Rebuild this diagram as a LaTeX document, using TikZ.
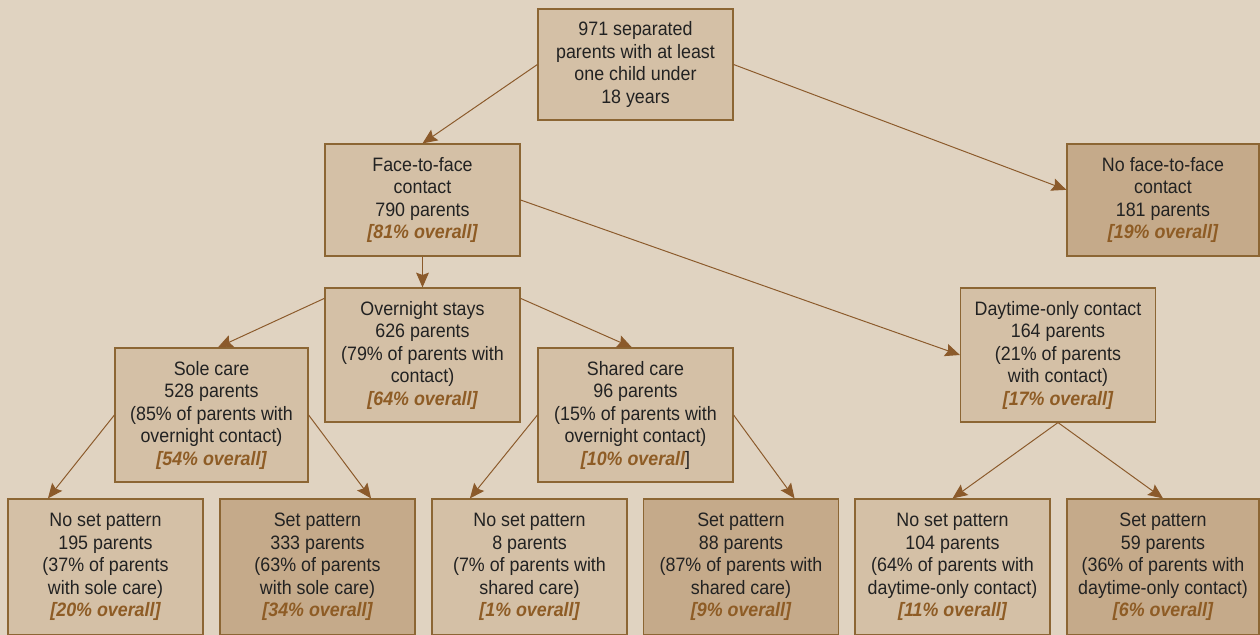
\documentclass[tikz,border=0pt]{standalone}
\usepackage{fontspec}
\setmainfont{Liberation Sans}[FakeStretch=0.92]
\usepackage{tikz}
\usetikzlibrary{arrows.meta}
\usepackage{color}

\definecolor{bgcol}{HTML}{E0D3C1}
\definecolor{boxlight}{HTML}{D4C0A6}
\definecolor{boxdark}{HTML}{C5AA8A}
\definecolor{edgecol}{HTML}{8C6634}
\definecolor{arrowcol}{HTML}{8B5A2B}
\definecolor{textcol}{HTML}{222222}
\definecolor{overallcol}{HTML}{8E5C25}

\newcommand{\overall}[1]{\textcolor{overallcol}{\bfseries\itshape [#1\% overall]}}

\begin{document}
\begin{tikzpicture}[x=0.025cm, y=-0.025cm,
    box/.style={draw=edgecol, line width=0.8pt, fill=boxlight, text=textcol, align=center,
        inner sep=0pt, minimum width=4.875cm, font=\fontsize{13.8}{16}\selectfont},
    darkbox/.style={box, fill=boxdark},
    arr/.style={draw=arrowcol, line width=0.7pt, -{Stealth[length=0.37cm, width=0.32cm, inset=0.06cm]}}]
        \useasboundingbox[fill=bgcol] (0,0) rectangle (1260,635);

        % Nodes
        \node[box, minimum height=2.775cm] (total) at (635.5, 64.5) {971 separated\\parents with at least\\one child under\\18 years};
        \node[box, minimum height=2.8cm] (face) at (422.5, 200) {Face-to-face\\contact\\790 parents\\\overall{81}};
        \node[darkbox, minimum height=2.8cm, minimum width=4.8cm] (noface) at (1163, 200) {No face-to-face\\contact\\181 parents\\\overall{19}};
        \node[box, minimum height=3.35cm] (overnight) at (422.5, 355) {Overnight stays\\626 parents\\(79\% of parents with\\contact)\\\overall{64}};
        \node[box, minimum height=3.35cm] (daytime) at (1058, 355) {Daytime-only contact\\164 parents\\(21\% of parents\\with contact)\\\overall{17}};
        \node[box, minimum height=3.35cm, minimum width=4.825cm] (sole) at (211.5, 415) {Sole care\\528 parents\\(85\% of parents with\\overnight contact)\\\overall{54}};
        \node[box, minimum height=3.35cm] (shared) at (635.5, 415) {Shared care\\96 parents\\(15\% of parents with\\overnight contact)\\\textcolor{overallcol}{\bfseries\itshape [10\% overall}]};

        \node[box, minimum height=3.4cm] (solenone) at (105.5, 567) {No set pattern\\195 parents\\(37\% of parents\\with sole care)\\\overall{20}};
        \node[darkbox, minimum height=3.4cm] (soleset) at (317.5, 567) {Set pattern\\333 parents\\(63\% of parents\\with sole care)\\\overall{34}};
        \node[box, minimum height=3.4cm] (sharednone) at (529.5, 567) {No set pattern\\8 parents\\(7\% of parents with\\shared care)\\\overall{1}};
        \node[darkbox, minimum height=3.4cm] (sharedset) at (741, 567) {Set pattern\\88 parents\\(87\% of parents with\\shared care)\\\overall{9}};
        \node[box, minimum height=3.4cm] (daynone) at (952.5, 567) {No set pattern\\104 parents\\(64\% of parents with\\daytime-only contact)\\\overall{11}};
        \node[darkbox, minimum height=3.4cm, minimum width=4.8cm] (dayset) at (1163, 567) {Set pattern\\59 parents\\(36\% of parents with\\daytime-only contact)\\\overall{6}};

        % Arrows
        \draw[arr] (total.west) -- (face.north);
        \draw[arr] (total.east) -- (noface.174);
        \draw[arr] (face.south) -- (overnight.north);
        \draw[arr] (face.east) -- (daytime.west);
        \draw[arr] (overnight.150) -- ([xshift=0.16cm]sole.north);
        \draw[arr] (overnight.30) -- ([xshift=-0.09cm]shared.north);
        \draw[arr] (sole.west) -- (solenone.130);
        \draw[arr] (sole.east) -- (soleset.52);
        \draw[arr] (shared.west) -- (sharednone.131);
        \draw[arr] (shared.east) -- (sharedset.52);
        \draw[arr] (daytime.south) -- (daynone.north);
        \draw[arr] (daytime.south) -- (dayset.north);
    \end{tikzpicture}
\end{document}
